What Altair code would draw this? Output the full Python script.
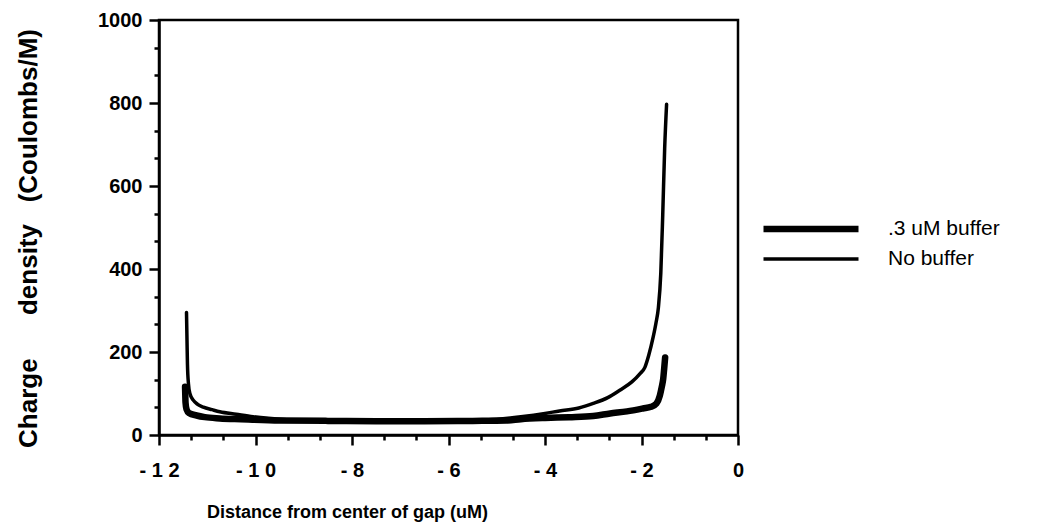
import altair as alt
import pandas as pd

# ---------------- data ----------------
series_names = [".3 uM buffer", "No buffer"]

buffer_x = [-11.46, -11.455, -11.45, -11.43, -11.38, -11.22, -11.05, -10.74, -10.30, -9.50,
            -8.50, -7.50, -6.50, -5.50, -4.80, -4.50, -4.00, -3.50, -3.00, -2.65,
            -2.30, -1.97, -1.80, -1.69, -1.62, -1.58, -1.55, -1.53, -1.51]
buffer_y = [116, 95, 78, 62, 53, 47, 43, 40, 38, 35,
            34, 33, 33, 34, 35, 38, 41, 43, 46, 52,
            57, 64, 68, 76, 95, 116, 135, 160, 187]

nobuf_x = [-11.43, -11.42, -11.41, -11.39, -11.36, -11.29, -11.20, -11.08, -10.90, -10.74,
           -10.40, -10.05, -9.35, -8.50, -7.50, -6.50, -5.50, -5.00, -4.50, -4.00,
           -3.70, -3.30, -3.00, -2.70, -2.45, -2.20, -2.03, -1.93, -1.85, -1.76,
           -1.70, -1.65, -1.60, -1.56, -1.52, -1.48]
nobuf_y = [295, 230, 170, 124, 100, 84, 74, 67, 61, 56,
           50, 44, 37, 34, 33, 33, 35, 38, 44, 52,
           58, 65, 76, 90, 108, 128, 148, 163, 192, 235,
           270, 307, 390, 530, 690, 797]

x_major = [-12, -10, -8, -6, -4, -2, 0]
x_tick_labels = ["- 1 2", "- 1 0", "- 8", "- 6", "- 4", "- 2", "0"]
y_major = [0, 200, 400, 600, 800, 1000]
y_tick_labels = ["0", "200", "400", "600", "800", "1000"]

NB = "\u00a0"
x_title = "Distance from center of gap (uM)"
y_title = "Charge" + NB * 6 + "density" + NB * 3 + "(Coulombs/M)"

# minor ticks: thirds between major ticks
x_minor = [a + (b - a) * k / 3 for a, b in zip(x_major[:-1], x_major[1:]) for k in (1, 2)]
y_minor = [a + (b - a) * k / 3 for a, b in zip(y_major[:-1], y_major[1:]) for k in (1, 2)]

rows = []
for i, (x, y) in enumerate(zip(buffer_x, buffer_y)):
    rows.append({"series": series_names[0], "x": x, "y": y, "i": i})
for i, (x, y) in enumerate(zip(nobuf_x, nobuf_y)):
    rows.append({"series": series_names[1], "x": x, "y": y, "i": i})
df = pd.DataFrame(rows)


def label_expr(values, labels):
    expr = "''"
    for v, l in reversed(list(zip(values, labels))):
        expr = f"datum.value == {v} ? '{l}' : ({expr})"
    return expr


def major_test(values):
    return " || ".join(f"datum.value == {v}" for v in values)


FONT = "Liberation Sans"

x_axis = alt.Axis(
    values=x_major + x_minor,
    labelExpr=label_expr(x_major, x_tick_labels),
    tickSize={"condition": {"test": major_test(x_major), "value": 10}, "value": 5},
    labelPadding=15,
    labelFontSize=20,
    labelFontWeight="bold",
    labelOverlap=False,
    labelFlush=False,
    title=x_title,
    titleFontSize=18,
    titleFontWeight="bold",
    titleX=188,
    titleY=82,
    titleAlign="center",
    titleBaseline="alphabetic",
)

y_axis = alt.Axis(
    values=y_major + y_minor,
    labelExpr=label_expr(y_major, y_tick_labels),
    tickSize={"condition": {"test": major_test(y_major), "value": 10}, "value": 5},
    labelPadding=7,
    labelFontSize=20,
    labelFontWeight="bold",
    labelOverlap=False,
    labelFlush=False,
    title=y_title,
    titleFontSize=26,
    titleFontWeight="bold",
    titleX=-131,
    titleY=218,
    titleAngle=270,
    titleAlign="center",
    titleBaseline="middle",
)

chart = (
    alt.Chart(df)
    .mark_line(color="black", interpolate="monotone", strokeCap="round", strokeJoin="round")
    .encode(
        x=alt.X("x:Q", scale=alt.Scale(domain=[-12, 0], nice=False, zero=False), axis=x_axis),
        y=alt.Y("y:Q", scale=alt.Scale(domain=[0, 1000], nice=False), axis=y_axis),
        strokeWidth=alt.StrokeWidth(
            "series:N",
            scale=alt.Scale(domain=series_names, range=[6.5, 3.5]),
            legend=alt.Legend(
                title=None,
                orient="none",
                legendX=601,
                legendY=199,
                symbolType="stroke",
                symbolSize=9025,
                symbolStrokeColor="black",
                clipHeight=20,
                labelFontSize=21,
                labelFont=FONT,
                labelOffset=26,
                rowPadding=9,
                padding=0,
            ),
        ),
        order="i:Q",
    )
    .properties(
        width=579,
        height=415,
        autosize=alt.AutoSizeParams(type="none"),
        padding={"left": 151, "top": 12, "right": 293, "bottom": 89},
    )
    .configure_view(stroke="black", strokeWidth=2.5)
    .configure_axis(
        grid=False,
        domainColor="black",
        domainWidth=2.5,
        tickColor="black",
        tickWidth=2.5,
        labelColor="black",
        titleColor="black",
        labelFont=FONT,
        titleFont=FONT,
    )
    .configure_legend(labelColor="black")
)

chart.save("out.html", embed_options={"renderer": "svg", "actions": False})
